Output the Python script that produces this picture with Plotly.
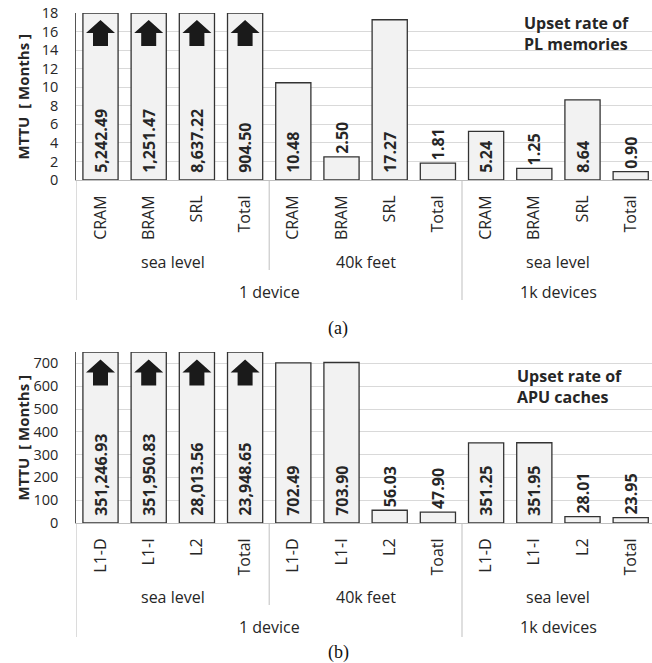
import plotly.graph_objects as go

# ---------------- data ----------------
cats_a = ["CRAM", "BRAM", "SRL", "Total", "CRAM", "BRAM", "SRL", "Total", "CRAM", "BRAM", "SRL", "Total"]
vals_a = [5242.49, 1251.47, 8637.22, 904.50, 10.48, 2.50, 17.27, 1.81, 5.24, 1.25, 8.64, 0.90]
cats_b = ["L1-D", "L1-I", "L2", "Total", "L1-D", "L1-I", "L2", "Toatl", "L1-D", "L1-I", "L2", "Total"]
vals_b = [351246.93, 351950.83, 28013.56, 23948.65, 702.49, 703.90, 56.03, 47.90, 351.25, 351.95, 28.01, 23.95]
level2 = ["sea level", "40k feet", "sea level"]
level2_span = [4, 4, 4]
level3 = ["1 device", "1k devices"]
level3_span = [8, 4]
ymax_a, dtick_a = 18, 2
ymax_b, dtick_b = 750, 100
title_a = "Upset rate of<br>PL memories"
title_b = "Upset rate of<br>APU caches"
ytitle = "MTTU  [ Months ]"

W, H = 652, 663
FONT = "Open Sans"
TXT = "#262626"
BAR_FILL = "#f2f2f2"
BAR_LINE = "#333333"
GRID = "#d9d9d9"
SEP = "#bfbfbf"


def py(px):
    return 1 - px / H


fig = go.Figure()

panels = [
    dict(cats=cats_a, vals=vals_a, ymax=ymax_a, dtick=dtick_a, xa="x", ya="y",
         top=13, bottom=180, title=title_a, tx=522, ty=10,
         l2y=262, l3y=292, sep_mid=270, sep_out=300, cap="(a)", capy=328),
    dict(cats=cats_b, vals=vals_b, ymax=ymax_b, dtick=dtick_b, xa="x2", ya="y2",
         top=352, bottom=523, title=title_b, tx=515, ty=363,
         l2y=597, l3y=627, sep_mid=605, sep_out=637, cap="(b)", capy=652),
]

x0px, x1px = 76.4, 652
step = 48.2
xrange = [-0.5, -0.5 + (x1px - x0px) / step]

shapes = []
annotations = []
arrow_path = "M -14.5,0 L 0,13 L 14.5,0 L 7.5,0 L 7.5,-13 L -7.5,-13 L -7.5,0 Z"
NB = "\u00a0"

for i, p in enumerate(panels):
    n = len(p["vals"])
    xs = list(range(n))
    shown = [min(v, p["ymax"]) for v in p["vals"]]
    plot_h = p["bottom"] - p["top"]
    labels, positions = [], []
    for v, s in zip(p["vals"], shown):
        lab = "{:,.2f}".format(v)
        inside = s / p["ymax"] * plot_h > len(lab) * 9 + 8
        labels.append(NB + lab if inside else lab)
        positions.append("inside" if inside else "outside")
    fig.add_trace(go.Bar(
        x=xs, y=shown, text=labels, textposition=positions, textangle=-90,
        insidetextanchor="start", constraintext="none",
        textfont=dict(family=FONT, size=16, color=TXT, weight="bold"),
        marker=dict(color=BAR_FILL, line=dict(color=BAR_LINE, width=1.3)),
        width=0.73, xaxis=p["xa"], yaxis=p["ya"], showlegend=False,
        hoverinfo="skip", cliponaxis=False,
    ))
    ydom = [py(p["bottom"]), py(p["top"])]
    ax = dict(domain=[x0px / W, 1.0], range=xrange, tickmode="array", tickvals=xs,
              ticktext=p["cats"], tickangle=-90, showgrid=False, zeroline=False,
              showline=True, linecolor=SEP, linewidth=1, ticks="", automargin=False,
              ticklabelstandoff=8,
              tickfont=dict(family=FONT, size=16, color=TXT))
    ay = dict(domain=ydom, range=[0, p["ymax"]], dtick=p["dtick"], showgrid=True,
              gridcolor=GRID, gridwidth=1.2, zeroline=False, showline=True, automargin=False,
              linecolor="#555555", linewidth=1.2, ticks="", ticklabelstandoff=14,
              tickfont=dict(family=FONT, size=14.5, color=TXT))
    if i == 0:
        ax["anchor"] = "y"
        ay["anchor"] = "x"
        fig.update_layout(xaxis=ax, yaxis=ay)
    else:
        ax["anchor"] = "y2"
        ay["anchor"] = "x2"
        fig.update_layout(xaxis2=ax, yaxis2=ay)

    # arrows for values beyond the axis range
    for xi, v in zip(xs, p["vals"]):
        if v > p["ymax"]:
            shapes.append(dict(type="path", xref=p["xa"], yref=p["ya"] + " domain",
                               xsizemode="pixel", ysizemode="pixel",
                               xanchor=xi, yanchor=0.88, path=arrow_path,
                               fillcolor="#1a1a1a", line=dict(width=0)))

    # group labels
    start = 0
    for lab, span in zip(level2, level2_span):
        annotations.append(dict(x=start + (span - 1) / 2, y=py(p["l2y"]), xref=p["xa"], yref="paper",
                                text=lab, showarrow=False, yanchor="middle",
                                font=dict(family=FONT, size=16, color=TXT)))
        start += span
    start = 0
    for lab, span in zip(level3, level3_span):
        annotations.append(dict(x=start + (span - 1) / 2, y=py(p["l3y"]), xref=p["xa"], yref="paper",
                                text=lab, showarrow=False, yanchor="middle",
                                font=dict(family=FONT, size=16, color=TXT)))
        start += span
    # separators
    b3, acc = [-0.5], 0
    for s in level3_span:
        acc += s
        b3.append(acc - 0.5)
    b2, acc = [], 0
    for s in level2_span:
        acc += s
        b2.append(acc - 0.5)
    for b in b3[:-1]:
        shapes.append(dict(type="line", xref=p["xa"], yref="paper", x0=b, x1=b,
                           y0=py(p["bottom"]), y1=py(p["sep_out"]), line=dict(color=SEP, width=1)))
    for b in b2[:-1]:
        if b in b3:
            continue
        shapes.append(dict(type="line", xref=p["xa"], yref="paper", x0=b, x1=b,
                           y0=py(p["bottom"]), y1=py(p["sep_mid"]), line=dict(color=SEP, width=1)))

    annotations.append(dict(x=p["tx"] / W, y=py(p["ty"]), xref="paper", yref="paper",
                            text="<b>" + p["title"] + "</b>", showarrow=False, align="left",
                            xanchor="left", yanchor="top",
                            font=dict(family=FONT, size=16, color=TXT)))
    annotations.append(dict(x=22 / W, y=py((p["top"] + p["bottom"]) / 2), xref="paper", yref="paper",
                            text="<b>" + ytitle + "</b>", showarrow=False, textangle=-90,
                            xanchor="center", yanchor="middle",
                            font=dict(family=FONT, size=15, color=TXT)))
    annotations.append(dict(x=338 / W, y=py(p["capy"]), xref="paper", yref="paper",
                            text=p["cap"], showarrow=False, xanchor="center", yanchor="middle",
                            font=dict(family="Liberation Serif", size=18, color="#111111")))

fig.update_layout(width=W, height=H, margin=dict(l=0, r=0, t=0, b=0, pad=0), autosize=False,
                  paper_bgcolor="white", plot_bgcolor="white",
                  shapes=shapes, annotations=annotations)

fig.write_html("out.html", config={"displayModeBar": False},
               post_script="document.documentElement.style.margin='0';"
                           "document.body.style.margin='0';document.body.style.padding='0';"
                           "document.body.style.overflow='hidden';")
